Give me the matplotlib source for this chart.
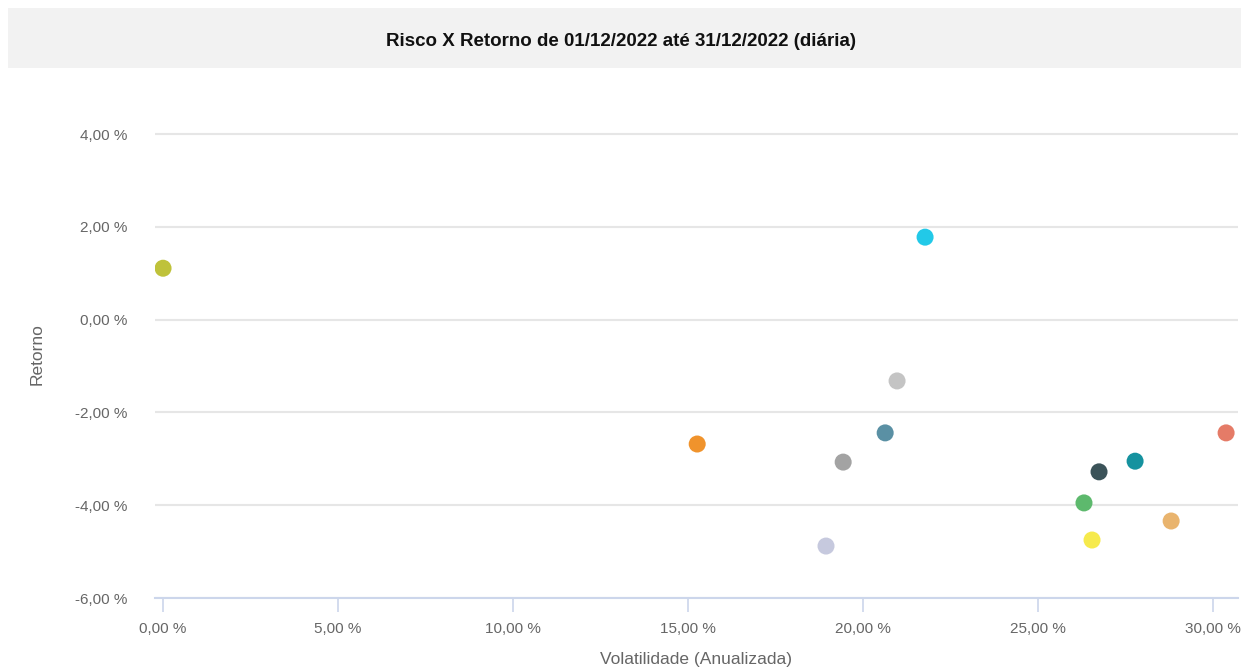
import matplotlib.pyplot as plt
from matplotlib.ticker import FuncFormatter
from matplotlib.patches import Rectangle

# volatilidade anualizada (%) x retorno (%)
volatilidade = [0.0, 21.77, 15.26, 20.97, 20.63, 19.43, 18.94, 26.31, 26.54, 26.74, 27.77, 28.80, 30.37]
retorno = [1.11, 1.78, -2.68, -1.32, -2.44, -3.07, -4.88, -3.95, -4.75, -3.28, -3.05, -4.34, -2.44]
cores = ['#bfc23a', '#22c9e8', '#f0932c', '#c4c4c4', '#5a90a4', '#a3a3a3', '#c6c9de',
         '#5db96d', '#f6ea4c', '#3b5359', '#15929f', '#e9b46e', '#e57b67']

titulo = 'Risco X Retorno de 01/12/2022 até 31/12/2022 (diária)'
x_ticks = [0, 5, 10, 15, 20, 25, 30]
y_ticks = [-6, -4, -2, 0, 2, 4]

plt.rcParams['font.family'] = ['Liberation Sans', 'DejaVu Sans']

fig = plt.figure(figsize=(12.41, 6.72), dpi=100)

# faixa cinza do titulo
fig.patches.append(Rectangle((8 / 1241, 1 - 68 / 672), 1 - 8 / 1241, 60 / 672,
                             transform=fig.transFigure, facecolor='#f2f2f2',
                             edgecolor='none', zorder=0))
fig.text(0.5, 1 - 41 / 672, titulo, ha='center', va='center',
         fontsize=13.5, fontweight='bold', color='#111111')

ax = fig.add_axes([155 / 1241, 74 / 672, 1083 / 1241, 487 / 672])
ax.scatter(volatilidade, retorno, c=cores, s=150, linewidths=0, zorder=3)

ax.set_xlim(-0.23, 30.71)
ax.set_ylim(-6, 4.5)
ax.set_xticks(x_ticks)
ax.set_yticks(y_ticks)
fmt = FuncFormatter(lambda v, p: f'{v:.2f}'.replace('.', ',') + ' %')
ax.xaxis.set_major_formatter(fmt)
ax.yaxis.set_major_formatter(fmt)

ax.grid(axis='y', color='#e6e6e6', linewidth=1.5)
ax.set_axisbelow(True)
for s in ['top', 'right', 'left']:
    ax.spines[s].set_visible(False)
ax.spines['bottom'].set_color('#ccd6eb')
ax.spines['bottom'].set_linewidth(1.5)

ax.tick_params(axis='x', colors='#ccd6eb', length=10, width=1.2, labelcolor='#666666',
               labelsize=11, pad=7)
ax.tick_params(axis='y', length=0, labelcolor='#666666', labelsize=11, pad=20)

ax.set_xlabel('Volatilidade (Anualizada)', fontsize=12.5, color='#666666', labelpad=12)
ax.set_ylabel('Retorno', fontsize=12.5, color='#666666', labelpad=22)

fig.savefig('out.png', dpi=100)
